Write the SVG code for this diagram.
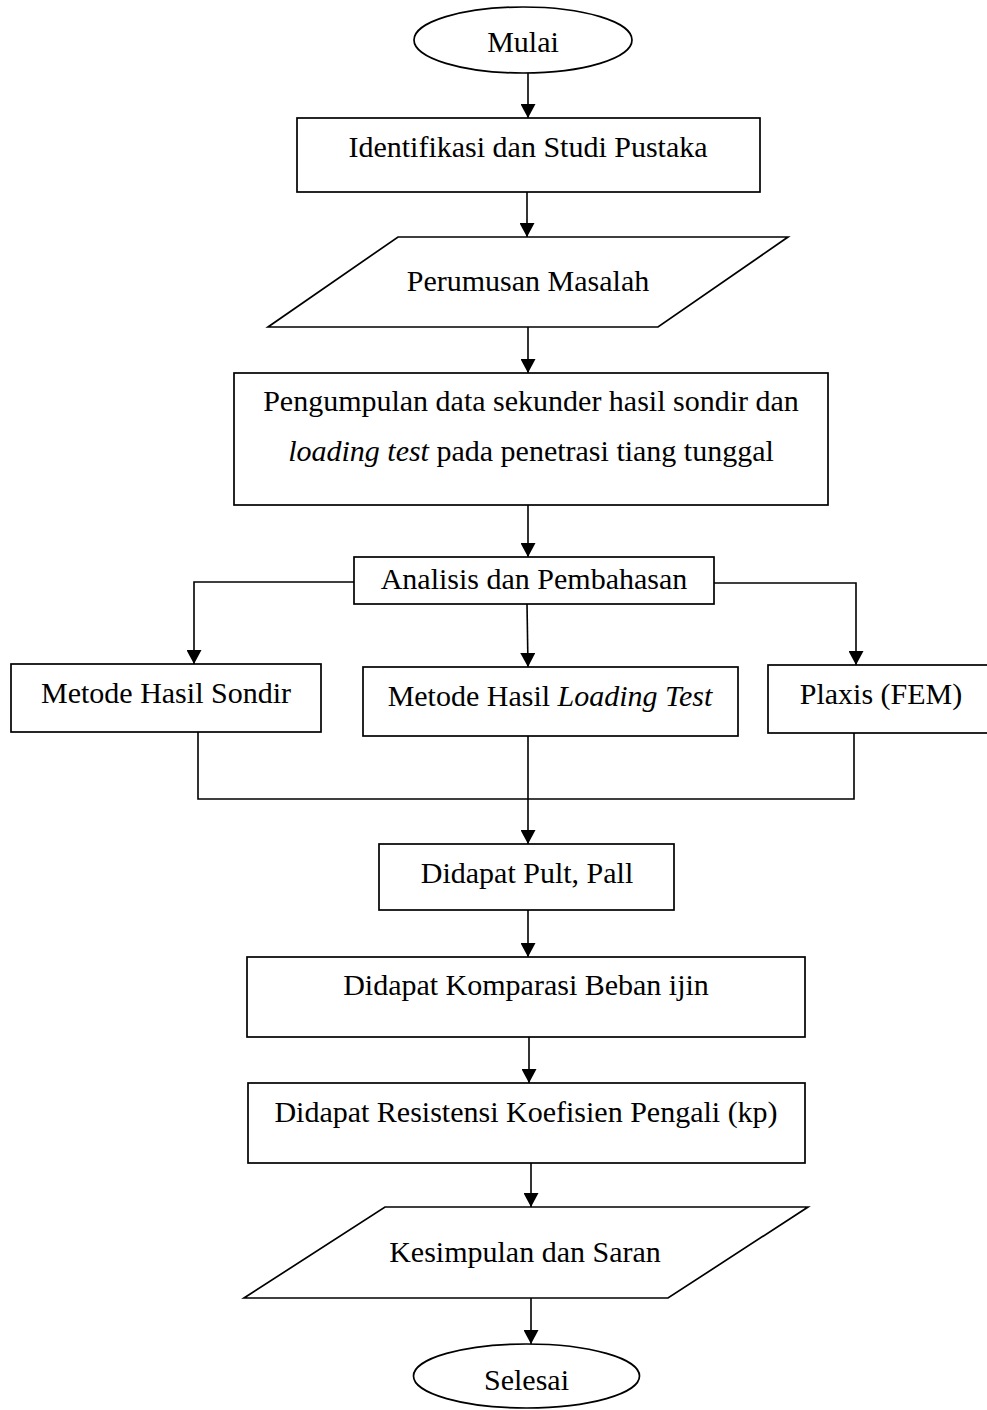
<svg xmlns="http://www.w3.org/2000/svg" width="987" height="1410" viewBox="0 0 987 1410">
<style>
.s{fill:#fff;stroke:#000;stroke-width:1.7}
.t{font-family:"Liberation Serif","Times New Roman",serif;font-size:30px;fill:#000;text-anchor:middle}
.c{fill:none;stroke:#000;stroke-width:1.6}
</style>
<defs>
<marker id="ah" markerUnits="userSpaceOnUse" markerWidth="14" markerHeight="15" refX="14" refY="7.5" orient="auto" viewBox="0 0 14 15">
<path d="M0,0 L14,7.5 L0,15 z" fill="#000"/>
</marker>
</defs>
<rect width="987" height="1410" fill="#fff"/>
<g id="connectors">
<line class="c" x1="528" y1="73" x2="528" y2="118" marker-end="url(#ah)"/>
<line class="c" x1="527" y1="192" x2="527" y2="237" marker-end="url(#ah)"/>
<line class="c" x1="528" y1="327" x2="528" y2="373" marker-end="url(#ah)"/>
<line class="c" x1="528" y1="505" x2="528" y2="557" marker-end="url(#ah)"/>
<polyline class="c" points="354,582 194,582 194,664" marker-end="url(#ah)"/>
<line class="c" x1="527" y1="604" x2="528" y2="667" marker-end="url(#ah)"/>
<polyline class="c" points="714,583 856,583 856,665" marker-end="url(#ah)"/>
<polyline class="c" points="198,732 198,799 854,799 854,733"/>
<line class="c" x1="528" y1="736" x2="528" y2="844" marker-end="url(#ah)"/>
<line class="c" x1="528" y1="910" x2="528" y2="957" marker-end="url(#ah)"/>
<line class="c" x1="529" y1="1037" x2="529" y2="1083" marker-end="url(#ah)"/>
<line class="c" x1="531" y1="1163" x2="531" y2="1207" marker-end="url(#ah)"/>
<line class="c" x1="531" y1="1298" x2="531" y2="1344" marker-end="url(#ah)"/>
</g>
<g id="mulai"><ellipse class="s" cx="523" cy="40" rx="109" ry="33"/><text class="t" x="523" y="52">Mulai</text></g>
<g id="identifikasi"><rect class="s" x="297" y="118" width="463" height="74"/><text class="t" x="528" y="157">Identifikasi dan Studi Pustaka</text></g>
<g id="perumusan"><polygon class="s" points="398,237 788,237 658,327 268,327"/><text class="t" x="528" y="291">Perumusan Masalah</text></g>
<g id="pengumpulan"><rect class="s" x="234" y="373" width="594" height="132"/><text class="t" x="531" y="411">Pengumpulan data sekunder hasil sondir dan</text><text class="t" x="531" y="461"><tspan font-style="italic">loading test</tspan> pada penetrasi tiang tunggal</text></g>
<g id="analisis"><rect class="s" x="354" y="557" width="360" height="47"/><text class="t" x="534" y="589">Analisis dan Pembahasan</text></g>
<g id="sondir"><rect class="s" x="11" y="664" width="310" height="68"/><text class="t" x="166" y="703">Metode Hasil Sondir</text></g>
<g id="loading"><rect class="s" x="363" y="667" width="375" height="69"/><text class="t" x="550" y="706">Metode Hasil <tspan font-style="italic">Loading Test</tspan></text></g>
<g id="plaxis"><rect class="s" x="768" y="665" width="222" height="68"/><text class="t" x="881" y="704">Plaxis (FEM)</text></g>
<g id="pult"><rect class="s" x="379" y="844" width="295" height="66"/><text class="t" x="527" y="883">Didapat Pult, Pall</text></g>
<g id="komparasi"><rect class="s" x="247" y="957" width="558" height="80"/><text class="t" x="526" y="995">Didapat Komparasi Beban ijin</text></g>
<g id="resistensi"><rect class="s" x="248" y="1083" width="557" height="80"/><text class="t" x="526" y="1122">Didapat Resistensi Koefisien Pengali (kp)</text></g>
<g id="kesimpulan"><polygon class="s" points="385,1207 808,1207 668,1298 244,1298"/><text class="t" x="525" y="1262">Kesimpulan dan Saran</text></g>
<g id="selesai"><ellipse class="s" cx="526.5" cy="1376" rx="113" ry="32"/><text class="t" x="526.5" y="1390">Selesai</text></g>
</svg>
